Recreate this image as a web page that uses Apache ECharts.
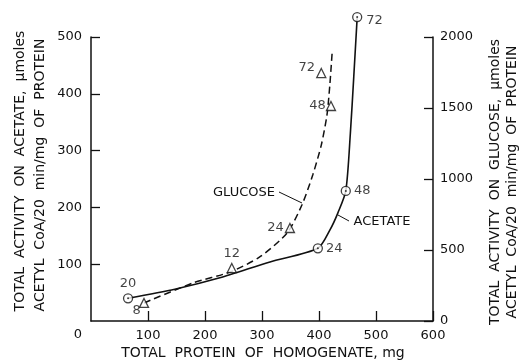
<!DOCTYPE html>
<html>
<head>
<meta charset="utf-8">
<script src="https://cdn.jsdelivr.net/npm/echarts@6/dist/echarts.min.js"></script>
<style>
  html, body { margin: 0; padding: 0; background: #fff; }
  #chart { width: 523px; height: 362px; }
</style>
</head>
<body>
<div id="chart"></div>
<script>
// measured points (hours of culture next to each marker)
var acetateProtein = [65, 398, 447, 467];
var acetateActivity = [40, 128, 229, 535];
var acetateHours = ['20', '24', '48', '72'];

var glucoseProtein = [93, 247, 349, 421, 404];
var glucoseActivity = [127, 373, 655, 1514, 1746];
var glucoseHours = ['8', '12', '24', '48', '72'];

// hand drawn curves
var acetateCurveX = [65, 147, 226, 314, 398, 419, 433, 447, 455, 461, 467];
var acetateCurveY = [40, 56, 76, 104, 128, 160, 190, 229, 330, 430, 535];
var glucoseCurveX = [93, 179, 244, 296, 344, 370, 389, 404, 414, 419, 423];
var glucoseCurveY = [127, 268, 345, 451, 620, 817, 1028, 1239, 1451, 1662, 1887];

var xTicks = [0, 100, 200, 300, 400, 500, 600];
var leftTicks = [0, 100, 200, 300, 400, 500];
var rightTicks = [0, 500, 1000, 1500, 2000];

var FONT = 'DejaVu Sans';
var INK = '#111';

var zip = function (xs, ys) {
  return xs.map(function (x, i) { return [x, ys[i]]; });
};

// where each hour label sits next to its marker
var acetateLabelPos = [
  { position: 'top', distance: 3 },
  { position: 'right', distance: 3 },
  { position: 'right', distance: 3 },
  { position: 'right', distance: 4, offset: [0, 4] }
];
var glucoseLabelPos = [
  { position: 'left', distance: 0, offset: [2, 8] },
  { position: 'top', distance: 3 },
  { position: 'left', distance: 1 },
  { position: 'left', distance: 0 },
  { position: 'left', distance: 1, offset: [0, -5] }
];

var pointData = function (xs, ys, hours, pos) {
  return xs.map(function (x, i) {
    return {
      value: [x, ys[i]],
      label: Object.assign({
        show: true,
        formatter: hours[i],
        color: INK,
        fontFamily: FONT,
        fontSize: 13
      }, pos[i])
    };
  });
};

var axisLabelStyle = { color: INK, fontFamily: FONT, fontSize: 13, formatter: function (v) { return String(v); } };

var myChart = echarts.init(document.getElementById('chart'));
var options = {
  animation: false,
  backgroundColor: '#fff',
  grid: { left: 91, right: 90, top: 37, bottom: 41 },
  xAxis: {
    type: 'value',
    min: xTicks[0],
    max: xTicks[xTicks.length - 1],
    interval: 100,
    axisLine: { lineStyle: { color: INK, width: 1.5 } },
    axisTick: { inside: true, length: 10, lineStyle: { color: INK, width: 1.3 } },
    axisLabel: Object.assign({ margin: 8, showMinLabel: false }, axisLabelStyle),
    splitLine: { show: false }
  },
  yAxis: [
    {
      type: 'value',
      min: leftTicks[0],
      max: leftTicks[leftTicks.length - 1],
      interval: 100,
      axisLine: { show: true, lineStyle: { color: INK, width: 1.5 } },
      axisTick: { show: true, inside: true, length: 9, lineStyle: { color: INK, width: 1.3 } },
      axisLabel: Object.assign({ margin: 9, showMinLabel: false }, axisLabelStyle),
      splitLine: { show: false }
    },
    {
      type: 'value',
      position: 'right',
      min: rightTicks[0],
      max: rightTicks[rightTicks.length - 1],
      interval: 500,
      axisLine: { show: true, lineStyle: { color: INK, width: 1.5 } },
      axisTick: { show: true, inside: true, length: 9, lineStyle: { color: INK, width: 1.3 } },
      axisLabel: Object.assign({ margin: 7 }, axisLabelStyle),
      splitLine: { show: false }
    }
  ],
  series: [
    {
      name: 'acetate curve',
      type: 'line',
      data: zip(acetateCurveX, acetateCurveY),
      smooth: 0.25,
      symbol: 'none',
      clip: false,
      lineStyle: { color: INK, width: 1.6 },
      z: 2
    },
    {
      name: 'glucose curve',
      type: 'line',
      yAxisIndex: 1,
      data: zip(glucoseCurveX, glucoseCurveY),
      smooth: 0.25,
      symbol: 'none',
      clip: false,
      lineStyle: { color: INK, width: 1.5, type: [7, 4] },
      z: 2
    },
    {
      name: 'acetate',
      type: 'scatter',
      data: pointData(acetateProtein, acetateActivity, acetateHours, acetateLabelPos),
      symbol: 'circle',
      symbolSize: 9,
      clip: false,
      itemStyle: { color: '#fff', borderColor: INK, borderWidth: 1.3 },
      z: 3
    },
    {
      name: 'acetate dot',
      type: 'scatter',
      data: zip(acetateProtein, acetateActivity),
      symbol: 'circle',
      symbolSize: 2,
      clip: false,
      itemStyle: { color: INK },
      z: 4
    },
    {
      name: 'glucose',
      type: 'scatter',
      yAxisIndex: 1,
      data: pointData(glucoseProtein, glucoseActivity, glucoseHours, glucoseLabelPos),
      symbol: 'triangle',
      symbolSize: 9,
      clip: false,
      itemStyle: { color: '#fff', borderColor: INK, borderWidth: 1.3 },
      z: 3
    }
  ],
  graphic: [
    // shared origin label
    { type: 'text', x: 78, y: 335, style: { text: '0', font: '13px "DejaVu Sans"', fill: INK, align: 'center', verticalAlign: 'middle' } },
    // x title
    { type: 'text', x: 263, y: 353, style: { text: 'TOTAL  PROTEIN  OF  HOMOGENATE, mg', font: '14px "DejaVu Sans"', fill: INK, align: 'center', verticalAlign: 'middle' } },
    // left titles
    { type: 'text', x: 20, y: 171, rotation: Math.PI / 2, style: { text: 'TOTAL  ACTIVITY  ON  ACETATE,  \u03bcmoles', font: '14px "DejaVu Sans"', fill: INK, align: 'center', verticalAlign: 'middle' } },
    { type: 'text', x: 40, y: 175, rotation: Math.PI / 2, style: { text: 'ACETYL  CoA/20  min/mg  OF  PROTEIN', font: '14px "DejaVu Sans"', fill: INK, align: 'center', verticalAlign: 'middle' } },
    // right titles
    { type: 'text', x: 495, y: 182, rotation: Math.PI / 2, style: { text: 'TOTAL  ACTIVITY  ON  GLUCOSE,  \u03bcmoles', font: '14px "DejaVu Sans"', fill: INK, align: 'center', verticalAlign: 'middle' } },
    { type: 'text', x: 512, y: 182, rotation: Math.PI / 2, style: { text: 'ACETYL  CoA/20  min/mg  OF  PROTEIN', font: '14px "DejaVu Sans"', fill: INK, align: 'center', verticalAlign: 'middle' } },
    // curve names with leader lines
    { type: 'text', x: 244, y: 193, style: { text: 'GLUCOSE', font: '13px "DejaVu Sans"', fill: INK, align: 'center', verticalAlign: 'middle' } },
    { type: 'line', shape: { x1: 279, y1: 192, x2: 302, y2: 203 }, style: { stroke: INK, lineWidth: 1 } },
    { type: 'text', x: 382, y: 222, style: { text: 'ACETATE', font: '13px "DejaVu Sans"', fill: INK, align: 'center', verticalAlign: 'middle' } },
    { type: 'line', shape: { x1: 338, y1: 215, x2: 349, y2: 221 }, style: { stroke: INK, lineWidth: 1 } }
  ]
};

myChart.setOption(options);
</script>
</body>
</html>
